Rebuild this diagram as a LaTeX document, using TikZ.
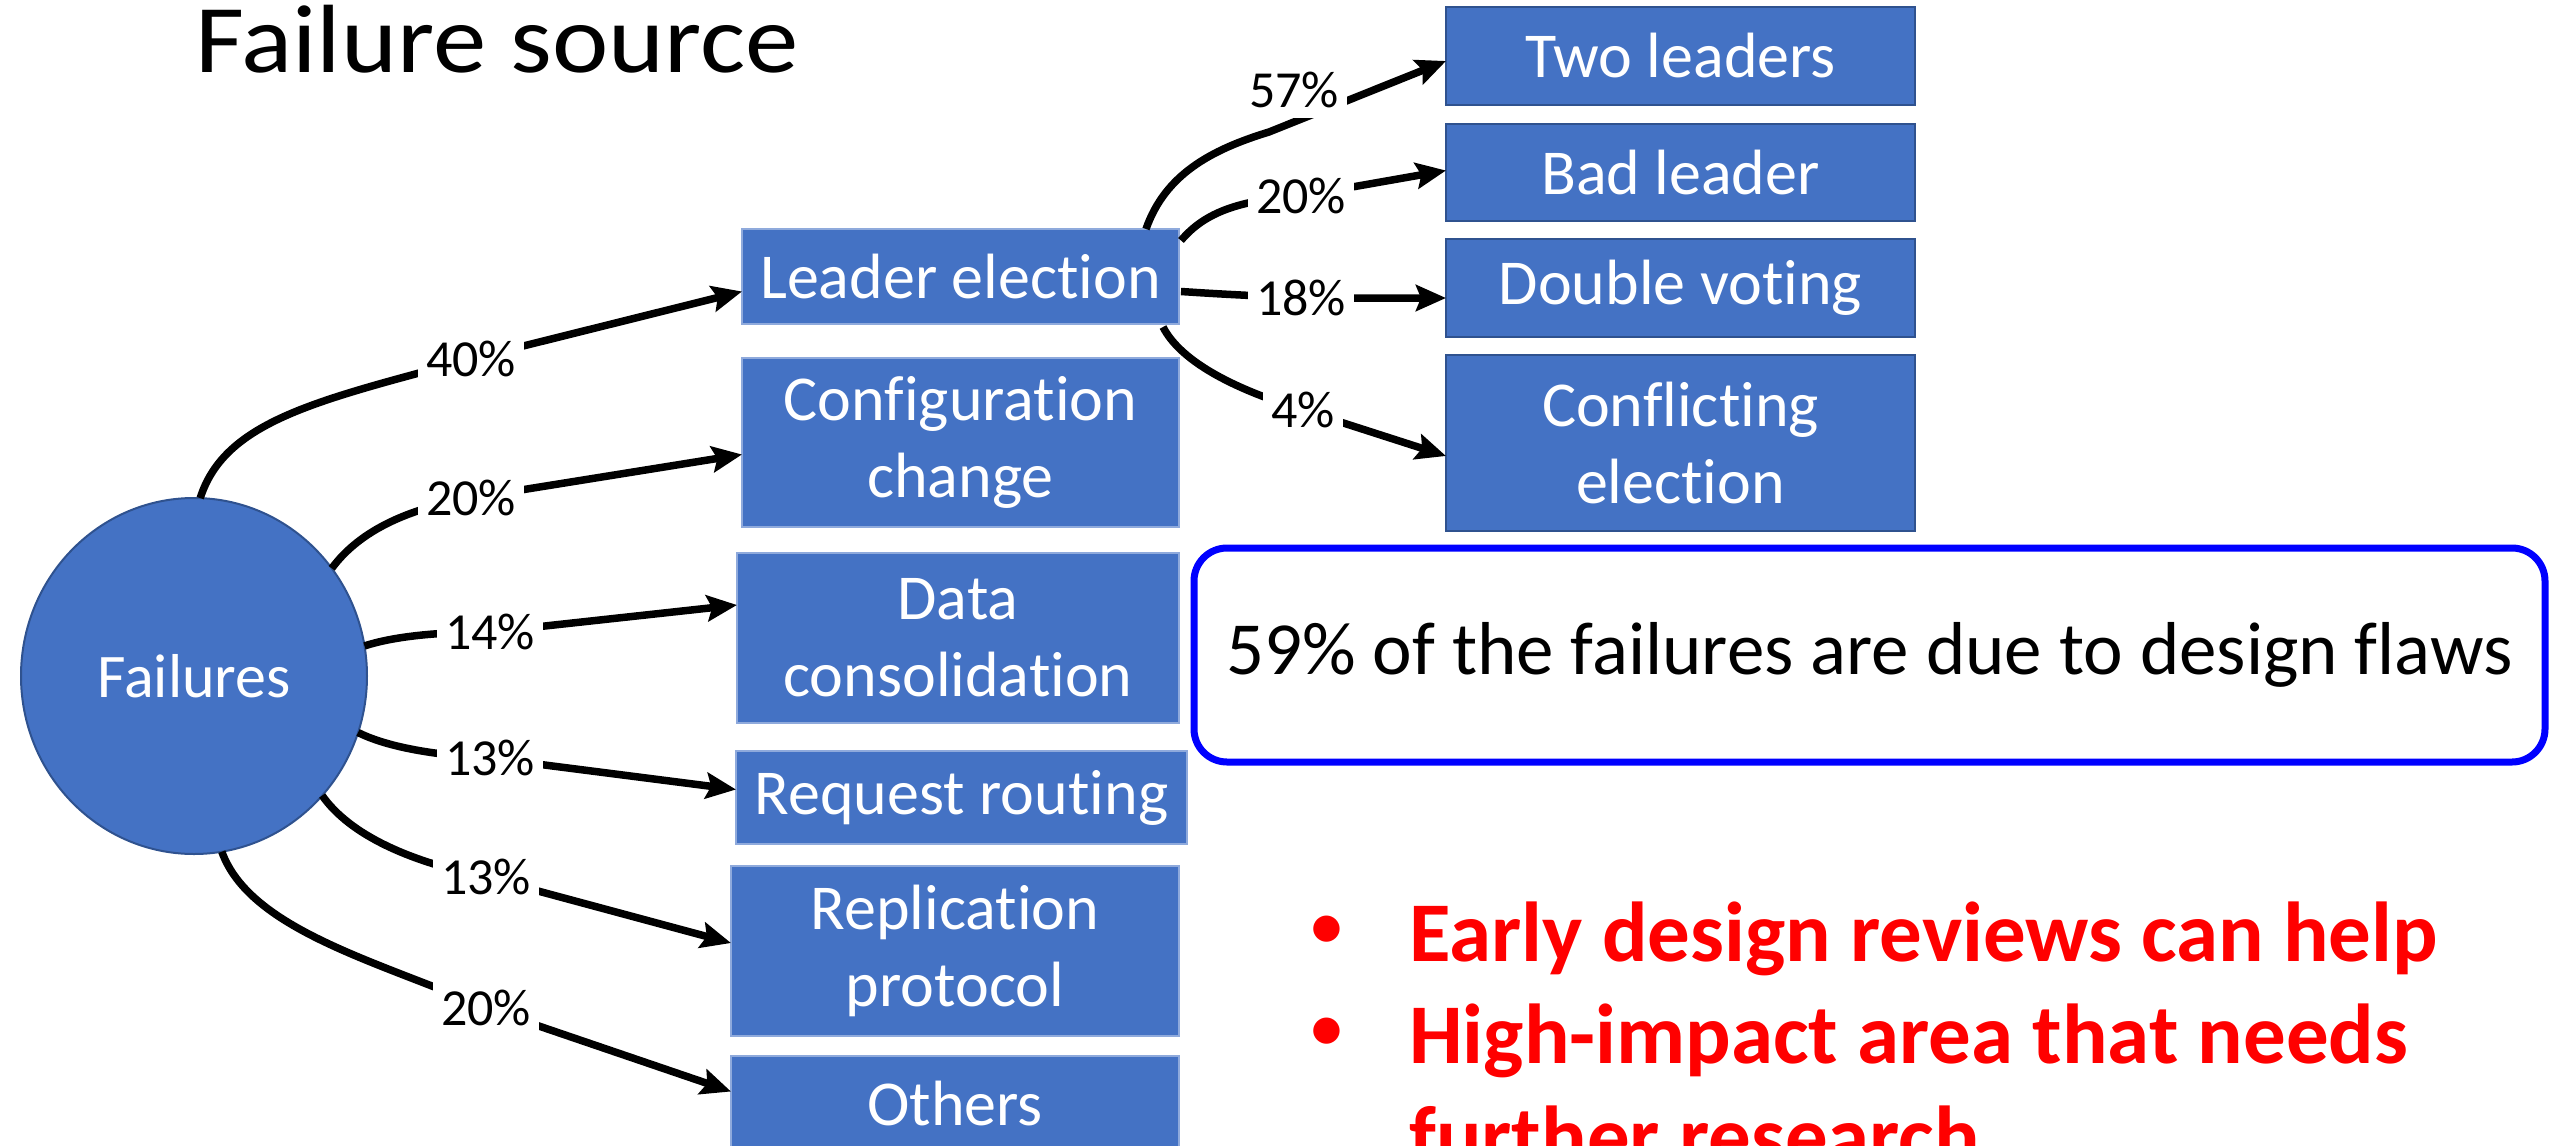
\documentclass[tikz,border=0pt]{standalone}
\usepackage{fontspec}
\setmainfont{Carlito}[Ligatures={NoCommon}]
\newfontfamily\titlefont{Carlito}[FakeStretch=1.1, Ligatures={NoCommon}]
\usetikzlibrary{arrows.meta,calc,shapes.geometric}
\definecolor{boxblue}{HTML}{4472C4}
\definecolor{darkborder}{HTML}{2F528F}
\definecolor{lightborder}{HTML}{8FAADC}
\begin{document}
\begin{tikzpicture}[x=1pt,y=-1pt,
  lbox/.style={rectangle, fill=boxblue, draw=lightborder, line width=1.5pt, text=white, align=center, inner sep=0pt, outer sep=0pt, font=\fontsize{64}{77}\selectfont},
  rbox/.style={lbox, draw=darkborder, line width=2.5pt},
  lbl/.style={fill=white, inner xsep=8pt, inner ysep=10pt, font=\fontsize{52}{60}\selectfont},
  conn/.style={line width=7.5pt, -{Stealth[length=30pt,width=26pt,inset=5pt]}},
  redtxt/.style={anchor=base west, inner sep=0pt, text=red, font=\fontsize{85}{102}\selectfont\bfseries},
  redbul/.style={inner sep=0pt, text=red, font=\fontsize{62}{62}\selectfont\bfseries}
  ]
\useasboundingbox (0,0) rectangle (2552,1146);
\clip (0,0) rectangle (2552,1146);

% title
\node[anchor=base west, inner sep=0pt, font=\fontsize{97}{110}\titlefont] (title) at (195,72) {Failure source};

% root
\node[ellipse, fill=boxblue, draw=darkborder, line width=2pt, minimum width=346pt, minimum height=356pt, inner sep=0pt, outer sep=0pt, text=white, font=\fontsize{62}{62}\selectfont] (F) at (194,676) {Failures};

% middle column
\node[lbox, minimum width=437pt, minimum height=95pt] (LE) at (960.5,276.5) {Leader election};
\node[lbox, minimum width=437pt, minimum height=169pt] (CC) at (960.5,442.5) {Configuration\\change};
\node[lbox, minimum width=442pt, minimum height=170pt] (DC) at (958,638) {Data\\consolidation};
\node[lbox, minimum width=451pt, minimum height=93pt] (RR) at (961.5,797.5) {Request routing};
\node[lbox, minimum width=448pt, minimum height=170pt] (RP) at (955,951) {Replication\\protocol};
\node[lbox, minimum width=448pt, minimum height=95pt] (OT) at (955,1103.5) {Others};

% right column
\node[rbox, minimum width=469pt, minimum height=98pt] (TL) at (1680.5,56) {Two leaders};
\node[rbox, minimum width=469pt, minimum height=97pt] (BL) at (1680.5,172.5) {Bad leader};
\node[rbox, minimum width=469pt, minimum height=98pt] (DV) at (1680.5,288) {Double voting};
\node[rbox, minimum width=469pt, minimum height=176pt] (CE) at (1680.5,443) {Conflicting\\election};

% label positions
\coordinate (c40) at (471,359);
\coordinate (c20a) at (471,498);
\coordinate (c14) at (490,632);
\coordinate (c13a) at (490,758);
\coordinate (c13b) at (486,877);
\coordinate (c20b) at (486,1008);
\coordinate (c57p) at (1269,132);
\coordinate (c57) at (1294,90);
\coordinate (c20c) at (1301,196);
\coordinate (c18) at (1301,298);
\coordinate (c4) at (1303,410);

% connectors from Failures
\draw[conn] (F.88) .. controls (225,420) and (320,400) .. (c40) -- ($(LE.west)+(0,15)$);
\draw[conn] (F.38.6) .. controls (360,530) and (410,508) .. (c20a) -- ($(CC.west)+(0,12)$);
\draw[conn] (F.10.6) .. controls (395,636) and (440,632) .. (c14) -- ($(DC.west)+(0,-33)$);
\draw[conn] (F.-19.5) .. controls (385,746) and (430,755) .. (c13a) -- ($(RR.west)+(0,-8)$);
\draw[conn] (F.-43.2) .. controls (350,835) and (410,862) .. (c13b) -- ($(RP.west)+(0,-8)$);
\draw[conn] (F.-81.6) .. controls (250,930) and (380,962) .. (c20b) -- ($(OT.west)+(0,-12)$);

% connectors from Leader election
\draw[conn] ($(LE.north east)+(-33,0)$) .. controls (1165,175) and (1210,150) .. (c57p) -- ($(TL.west)+(0,5)$);
\draw[conn] ($(LE.east)+(2,-36)$) .. controls (1205,212) and (1240,200) .. (c20c) -- ($(BL.west)+(0,-2)$);
\draw[conn] ($(LE.east)+(2,15)$) .. controls (1220,294) .. (c18) -- ($(DV.west)+(0,10)$);
\draw[conn] ($(LE.south east)+(-16,3)$) .. controls (1180,360) and (1230,388) .. (c4) -- ($(CE.west)+(0,13)$);

% labels
\node[lbl] (l40) at (c40) {40\%};
\node[lbl] (l20a) at (c20a) {20\%};
\node[lbl] (l14) at (c14) {14\%};
\node[lbl] (l13a) at (c13a) {13\%};
\node[lbl] (l13b) at (c13b) {13\%};
\node[lbl] (l20b) at (c20b) {20\%};
\node[lbl] (l57) at (c57) {57\%};
\node[lbl] (l20c) at (c20c) {20\%};
\node[lbl] (l18) at (c18) {18\%};
\node[lbl] (l4) at (c4) {4\%};

% design flaws box
\node[rectangle, draw=blue, line width=7pt, rounded corners=33pt, minimum width=1351pt, minimum height=214pt, inner sep=0pt, font=\fontsize{75}{90}\selectfont] (DF) at (1869.5,655) {59\% of the failures are due to design flaws};

% red bullets
\node[redbul] (b1) at (1327,931) {•};
\node[redtxt] (t1) at (1409,961) {Early design reviews can help};
\node[redbul] (b2) at (1327,1033) {•};
\node[redtxt] (t2) at (1409,1063) {High-impact area that needs};
\node[redtxt] (t3) at (1409,1165) {further research};
\end{tikzpicture}
\end{document}
